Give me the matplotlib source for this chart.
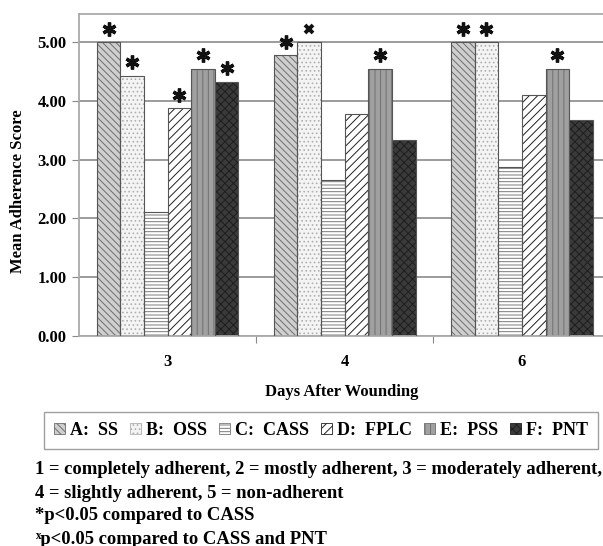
import matplotlib
matplotlib.use("Agg")
import matplotlib.pyplot as plt
from matplotlib.patches import Patch
import numpy as np

days = ["3", "4", "6"]
series = ["A:  SS", "B:  OSS", "C:  CASS", "D:  FPLC", "E:  PSS", "F:  PNT"]
vals_A = [5.00, 4.78, 5.00]
vals_B = [4.43, 5.00, 5.00]
vals_C = [2.11, 2.66, 2.88]
vals_D = [3.88, 3.77, 4.10]
vals_E = [4.55, 4.55, 4.55]
vals_F = [4.33, 3.33, 3.67]
# significance markers: '*' = p<0.05 vs CASS, 'x' = p<0.05 vs CASS and PNT
sig_A = ["*", "*", "*"]
sig_B = ["*", "x", "*"]
sig_C = ["", "", ""]
sig_D = ["*", "", ""]
sig_E = ["*", "*", "*"]
sig_F = ["*", "", ""]

notes = [
    "1 = completely adherent, 2 = mostly adherent, 3 = moderately adherent,",
    "4 = slightly adherent, 5 = non-adherent",
    "*p<0.05 compared to CASS",
    "\u02e3p<0.05 compared to CASS and PNT",
]

all_vals = [vals_A, vals_B, vals_C, vals_D, vals_E, vals_F]
all_sig = [sig_A, sig_B, sig_C, sig_D, sig_E, sig_F]
styles = [
    dict(fc="#cfcfcf", hc="#6e6e6e", hatch="\\\\\\\\\\"),
    dict(fc="#f4f4f4", hc="#b0b0b0", hatch="...."),
    dict(fc="#ffffff", hc="#7a7a7a", hatch="-----"),
    dict(fc="#ffffff", hc="#202020", hatch="////"),
    dict(fc="#a0a0a0", hc="#707070", hatch="|||"),
    dict(fc="#3a3a3a", hc="#1e1e1e", hatch="xxxx"),
]

plt.rcParams["font.family"] = ["Liberation Serif", "DejaVu Serif"]
plt.rcParams["font.weight"] = "bold"
plt.rcParams["hatch.linewidth"] = 0.7

fig = plt.figure(figsize=(6.03, 5.46), dpi=100)
ax = fig.add_axes([79 / 603, 1 - 336 / 546, 1 - 79 / 603 + 0.03, (336 - 14) / 546])

x = np.arange(len(days))
n = len(series)
w = 0.8 / n
for i, (v, st, sg) in enumerate(zip(all_vals, styles, all_sig)):
    pos = x - 0.4 + w * (i + 0.5)
    ax.bar(pos, v, w, color=st["fc"], edgecolor=st["hc"], hatch=st["hatch"], linewidth=0, zorder=2)
    ax.bar(pos, v, w, fill=False, edgecolor="#555555", linewidth=0.8, zorder=3)
    for p, val, s in zip(pos, v, sg):
        if s == "*":
            ax.plot(p, val + 0.23, marker=(6, 2, 0), ms=10, mew=2.4, color="#111111", zorder=4, clip_on=False)
        elif s == "x":
            ax.plot(p, val + 0.23, marker="x", ms=6, mew=2.8, color="#111111", zorder=4, clip_on=False)

ax.set_xlim(-0.5, 2.56)
ax.set_ylim(0, 5.48)
ax.set_yticks([0, 1, 2, 3, 4, 5])
ax.set_yticklabels(["%.2f" % t for t in [0, 1, 2, 3, 4, 5]], fontsize=12, fontweight="bold")
ax.yaxis.grid(True, color="#8a8a8a", linewidth=1.2, zorder=0)
ax.set_axisbelow(True)
ax.set_xticks([0.5, 1.5])
ax.set_xticklabels([])
ax.set_xticks(x, minor=True)
ax.set_xticklabels(days, minor=True, fontsize=12, fontweight="bold")
ax.tick_params(axis="x", which="minor", length=0, pad=13)
ax.tick_params(axis="x", which="major", length=5, color="#888888", direction="out")
ax.tick_params(axis="y", length=5, color="#888888", pad=4)
for s in ["left", "bottom", "top"]:
    ax.spines[s].set_color("#aaaaaa")
    ax.spines[s].set_linewidth(1.3)
ax.spines["right"].set_visible(False)

fig.text(18 / 603, 1 - 191 / 546, "Mean Adherence Score", rotation=90, fontsize=12,
         fontweight="bold", ha="center", va="center")
fig.text(342 / 603, 1 - 392 / 546, "Days After Wounding", fontsize=12,
         fontweight="bold", ha="center", va="center")

handles = [Patch(facecolor=st["fc"], edgecolor=st["hc"], hatch=st["hatch"], linewidth=0.6) for st in styles]
leg = fig.legend(handles, series, ncol=6, loc="center", bbox_to_anchor=(321 / 603, 1 - 430.5 / 546),
                 frameon=True, fancybox=False, edgecolor="#888888",
                 handlelength=0.6, handleheight=0.6, handletextpad=0.25, columnspacing=0.7,
                 borderpad=0.55, prop={"weight": "bold", "size": 13})
leg.get_frame().set_linewidth(1.0)

ys = [470, 493, 516, 539]
for t, yy in zip(notes, ys):
    fig.text(35 / 603, 1 - yy / 546, t, fontsize=13.4, fontweight="bold", va="center", ha="left")

fig.savefig("out.png", dpi=100)
